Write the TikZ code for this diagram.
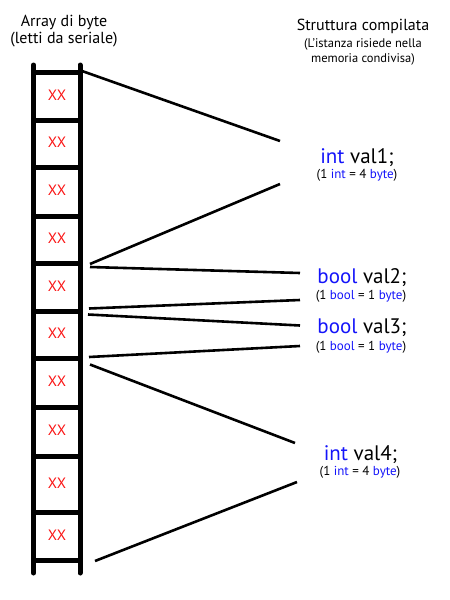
\documentclass[tikz,border=0pt]{standalone}
\usepackage{fontspec}
\setmainfont{PT Sans}
\definecolor{kw}{RGB}{20,20,250}
\definecolor{xred}{RGB}{250,20,20}
\begin{document}
\begin{tikzpicture}[x=1pt,y=-1pt,
  rail/.style={line width=5pt,line cap=round},
  rung/.style={line width=5pt},
  conn/.style={line width=2.6pt},
  cell/.style={text=xred,font=\fontsize{15}{15}\selectfont,inner sep=0pt},
  big/.style={anchor=base,inner sep=0pt,font=\fontsize{21}{21}\selectfont},
  small/.style={anchor=base,inner sep=0pt,font=\fontsize{13}{13}\selectfont},
  head/.style={anchor=base,inner sep=0pt,font=\fontsize{16}{16}\selectfont},
  headsmall/.style={anchor=base,inner sep=0pt,font=\fontsize{12.5}{12.5}\selectfont}]
\useasboundingbox (0,0) rectangle (450,600);
% headers
\node[head] (h1) at (64,26) {Array di byte};
\node[head] (h2) at (64,43) {(letti da seriale)};
\node[head] (h3) at (363,30) {Struttura compilata};
\node[headsmall] (h4) at (363,47) {(L’istanza risiede nella};
\node[headsmall] (h5) at (363,62) {memoria condivisa)};
% ladder
\draw[rail] (33.5,65) -- (33.5,573);
\draw[rail] (80,65) -- (80,573);
\foreach \y in {72,120,167,216,263,311,358,407,456,512,560}
  \draw[rung] (33.5,\y) -- (80,\y);
% cells
\foreach \y/\n in {95/1,142/2,190.5/3,238.5/4,286/5,333.5/6,381.5/7,430.5/8,483/9,535/10}
  \node[cell] (c\n) at (57,\y) {XX};
% texts
\node[big] (t1) at (357,163) {\textcolor{kw}{int} val1;};
\node[small] (s1) at (357,178.5) {(1 \textcolor{kw}{int} = 4 \textcolor{kw}{byte})};
\node[big] (t2) at (362,283.5) {\textcolor{kw}{bool} val2;};
\node[small] (s2) at (361,299) {(1 \textcolor{kw}{bool} = 1 \textcolor{kw}{byte})};
\node[big] (t3) at (362,333.5) {\textcolor{kw}{bool} val3;};
\node[small] (s3) at (361,350) {(1 \textcolor{kw}{bool} = 1 \textcolor{kw}{byte})};
\node[big] (t4) at (360.5,460) {\textcolor{kw}{int} val4;};
\node[small] (s4) at (360,475.5) {(1 \textcolor{kw}{int} = 4 \textcolor{kw}{byte})};
% connector end points
\coordinate (a1) at (82,71);   \coordinate (b1) at (280,141);
\coordinate (a2) at (90,264);  \coordinate (b2) at (280,184);
\coordinate (a3) at (90,267);  \coordinate (b3) at (300,273);
\coordinate (a4) at (89,308.5);\coordinate (b4) at (300,300);
\coordinate (a5) at (88,314.5);\coordinate (b5) at (300,325.5);
\coordinate (a6) at (89,357);  \coordinate (b6) at (300,346);
\coordinate (a7) at (90,364.5);\coordinate (b7) at (295,443);
\coordinate (a8) at (95,561);  \coordinate (b8) at (297,482);
\foreach \i in {1,...,8}
  \draw[conn] (a\i) -- (b\i);
\end{tikzpicture}
\end{document}
